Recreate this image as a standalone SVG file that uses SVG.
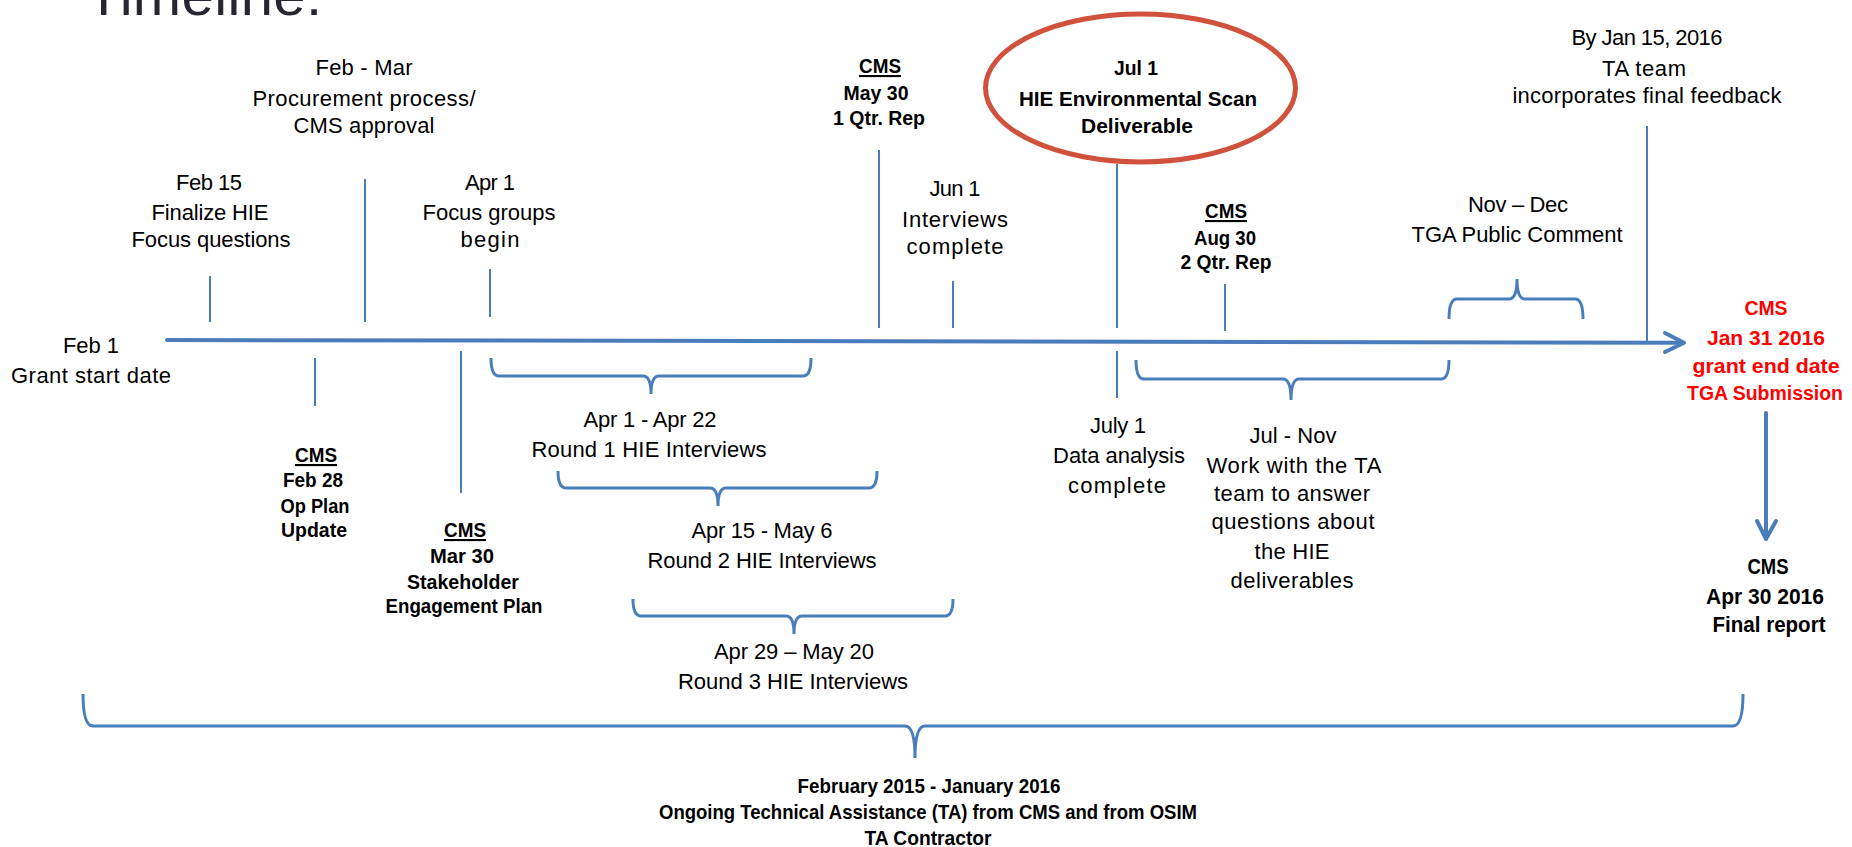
<svg xmlns="http://www.w3.org/2000/svg" width="1852" height="847" viewBox="0 0 1852 847">
<style>
  text { font-family: "Liberation Sans", Arial, sans-serif; text-anchor: middle; fill: #000; }
  .r { font-size: 22px; }
  .b { font-size: 21px; font-weight: bold; }
  .bl { font-size: 22px; font-weight: bold; }
  .red { fill: #ff0000; font-size: 20px; }
  .u { text-decoration: underline; }
  .title { font-size: 58px; text-anchor: start; fill: #262631; }
  .tick { stroke: #4a7ebb; stroke-width: 2; fill: none; }
  .main { stroke: #4a7ebb; stroke-width: 4; fill: none; stroke-linecap: round; stroke-linejoin: round; }
  .brace { stroke: #4a7ebb; stroke-width: 3; fill: none; }
</style>
<rect width="1852" height="847" fill="#ffffff"/>
<text class="title" x="86" y="15" textLength="236">Timeline:</text>

<g id="connectors">
  <path class="main" d="M167,340 L1682,342.7"/>
  <polyline class="main" points="1665,333 1684,342.7 1665,352"/>
  <path class="main" d="M1766,413 L1766,538"/>
  <polyline class="main" points="1757,521 1766,539 1776,521"/>
  <line class="tick" x1="210" y1="276" x2="210" y2="322"/>
  <line class="tick" x1="365" y1="179" x2="365" y2="322"/>
  <line class="tick" x1="490" y1="269" x2="490" y2="317"/>
  <line class="tick" x1="879" y1="150" x2="879" y2="328"/>
  <line class="tick" x1="953" y1="281" x2="953" y2="328"/>
  <line class="tick" x1="1117" y1="164" x2="1117" y2="328"/>
  <line class="tick" x1="1225" y1="284" x2="1225" y2="331"/>
  <line class="tick" x1="1647" y1="126" x2="1647" y2="342"/>
  <line class="tick" x1="315" y1="358" x2="315" y2="406"/>
  <line class="tick" x1="461" y1="351" x2="461" y2="493"/>
  <line class="tick" x1="1117" y1="351" x2="1117" y2="398"/>
  <path class="brace" d="M491,358 Q491,376 499,376 L643,376 Q651,376 651,394 Q651,376 659,376 L803,376 Q811,376 811,358"/>
  <path class="brace" d="M558,471 Q558,488 566,488 L710,488 Q718,488 718,506 Q718,488 726,488 L869,488 Q877,488 877,471"/>
  <path class="brace" d="M633,599 Q633,616 641,616 L786,616 Q794,616 794,634 Q794,616 802,616 L945,616 Q953,616 953,599"/>
  <path class="brace" d="M1136,360 Q1136,379 1144,379 L1283,379 Q1291,379 1291,400 Q1291,379 1299,379 L1441,379 Q1449,379 1449,360"/>
  <path class="brace" d="M1449,319 Q1449,299 1457,299 L1509,299 Q1517,299 1517,279 Q1517,299 1525,299 L1575,299 Q1583,299 1583,319"/>
  <path class="brace" d="M83,694 Q83,726 93,726 L905,726 Q915,726 915,758 Q915,726 925,726 L1733,726 Q1743,726 1743,694"/>
</g>

<g id="grant-start">
  <text class="r" x="91" y="353" textLength="56">Feb 1</text>
  <text class="r" x="91" y="383" textLength="160">Grant start date</text>
</g>
<g id="feb15">
  <text class="r" x="209" y="190" textLength="66">Feb 15</text>
  <text class="r" x="210" y="220" textLength="117">Finalize HIE</text>
  <text class="r" x="211" y="247" textLength="159">Focus questions</text>
</g>
<g id="feb-mar">
  <text class="r" x="364" y="75" textLength="97">Feb - Mar</text>
  <text class="r" x="364" y="106" textLength="223">Procurement process/</text>
  <text class="r" x="364" y="133" textLength="141">CMS approval</text>
</g>
<g id="apr1">
  <text class="r" x="490" y="190" textLength="50">Apr 1</text>
  <text class="r" x="489" y="220" textLength="133">Focus groups</text>
  <text class="r" x="490" y="247" textLength="59">begin</text>
</g>
<g id="may30">
  <text class="b u" x="880" y="73" textLength="42" lengthAdjust="spacingAndGlyphs">CMS</text>
  <text class="b" x="876" y="100" textLength="65" lengthAdjust="spacingAndGlyphs">May 30</text>
  <text class="b" x="879" y="125" textLength="92" lengthAdjust="spacingAndGlyphs">1 Qtr. Rep</text>
</g>
<g id="jun1">
  <text class="r" x="955" y="196" textLength="51">Jun 1</text>
  <text class="r" x="955" y="227" textLength="106">Interviews</text>
  <text class="r" x="955" y="254" textLength="97">complete</text>
</g>
<g id="jul1-scan">
  <ellipse cx="1140.5" cy="88" rx="155" ry="74" fill="none" stroke="#d0523c" stroke-width="5"/>
  <text class="b" x="1136" y="75" textLength="44" lengthAdjust="spacingAndGlyphs">Jul 1</text>
  <text class="b" x="1138" y="106" textLength="238" lengthAdjust="spacingAndGlyphs">HIE Environmental  Scan</text>
  <text class="b" x="1137" y="133" textLength="112" lengthAdjust="spacingAndGlyphs">Deliverable</text>
</g>
<g id="aug30">
  <text class="b u" x="1226" y="218" textLength="42" lengthAdjust="spacingAndGlyphs">CMS</text>
  <text class="b" x="1225" y="245" textLength="62" lengthAdjust="spacingAndGlyphs">Aug 30</text>
  <text class="b" x="1226" y="269" textLength="91" lengthAdjust="spacingAndGlyphs">2 Qtr. Rep</text>
</g>
<g id="nov-dec">
  <text class="r" x="1518" y="212" textLength="100">Nov – Dec</text>
  <text class="r" x="1517" y="242" textLength="211">TGA Public Comment</text>
</g>
<g id="jan15">
  <text class="r" x="1647" y="45" textLength="151">By Jan 15, 2016</text>
  <text class="r" x="1644" y="76" textLength="84">TA team</text>
  <text class="r" x="1647" y="103" textLength="269">incorporates final feedback</text>
</g>
<g id="jan31">
  <text class="bl red" x="1766" y="315" textLength="43" lengthAdjust="spacingAndGlyphs">CMS</text>
  <text class="bl red" x="1766" y="345" textLength="118" lengthAdjust="spacingAndGlyphs">Jan 31 2016</text>
  <text class="bl red" x="1766" y="373" textLength="147" lengthAdjust="spacingAndGlyphs">grant end date</text>
  <text class="bl red" x="1765" y="400" textLength="156" lengthAdjust="spacingAndGlyphs">TGA Submission</text>
</g>
<g id="apr30">
  <text class="bl" x="1768" y="574" textLength="41" lengthAdjust="spacingAndGlyphs">CMS</text>
  <text class="bl" x="1765" y="604" textLength="118" lengthAdjust="spacingAndGlyphs">Apr 30 2016</text>
  <text class="bl" x="1769" y="632" textLength="113" lengthAdjust="spacingAndGlyphs">Final report</text>
</g>
<g id="feb28">
  <text class="b u" x="316" y="462" textLength="42" lengthAdjust="spacingAndGlyphs">CMS</text>
  <text class="b" x="313" y="487" textLength="60" lengthAdjust="spacingAndGlyphs">Feb 28</text>
  <text class="b" x="315" y="513" textLength="69" lengthAdjust="spacingAndGlyphs">Op Plan</text>
  <text class="b" x="314" y="537" textLength="66" lengthAdjust="spacingAndGlyphs">Update</text>
</g>
<g id="mar30">
  <text class="b u" x="465" y="537" textLength="42" lengthAdjust="spacingAndGlyphs">CMS</text>
  <text class="b" x="462" y="563" textLength="64" lengthAdjust="spacingAndGlyphs">Mar 30</text>
  <text class="b" x="463" y="589" textLength="112" lengthAdjust="spacingAndGlyphs">Stakeholder</text>
  <text class="b" x="464" y="613" textLength="157" lengthAdjust="spacingAndGlyphs">Engagement Plan</text>
</g>
<g id="round1">
  <text class="r" x="650" y="427" textLength="133">Apr 1 - Apr 22</text>
  <text class="r" x="649" y="457" textLength="235">Round 1  HIE Interviews</text>
</g>
<g id="round2">
  <text class="r" x="762" y="538" textLength="141">Apr 15 - May 6</text>
  <text class="r" x="762" y="568" textLength="229">Round 2 HIE Interviews</text>
</g>
<g id="round3">
  <text class="r" x="794" y="659" textLength="160">Apr 29 – May 20</text>
  <text class="r" x="793" y="689" textLength="230">Round 3 HIE Interviews</text>
</g>
<g id="july1-analysis">
  <text class="r" x="1118" y="433" textLength="56">July 1</text>
  <text class="r" x="1119" y="463" textLength="132">Data analysis</text>
  <text class="r" x="1117" y="493" textLength="98">complete</text>
</g>
<g id="jul-nov">
  <text class="r" x="1293" y="443" textLength="87">Jul - Nov</text>
  <text class="r" x="1294" y="473" textLength="175">Work with the TA</text>
  <text class="r" x="1292" y="501" textLength="156">team to answer</text>
  <text class="r" x="1293" y="529" textLength="163">questions about</text>
  <text class="r" x="1292" y="559" textLength="75">the HIE</text>
  <text class="r" x="1292" y="588" textLength="123">deliverables</text>
</g>
<g id="ongoing-ta">
  <text class="b" x="929" y="793" textLength="263" lengthAdjust="spacingAndGlyphs">February 2015 - January 2016</text>
  <text class="b" x="928" y="819" textLength="538" lengthAdjust="spacingAndGlyphs">Ongoing Technical Assistance (TA) from CMS and from OSIM</text>
  <text class="b" x="928" y="845" textLength="127" lengthAdjust="spacingAndGlyphs">TA Contractor</text>
</g>
</svg>
